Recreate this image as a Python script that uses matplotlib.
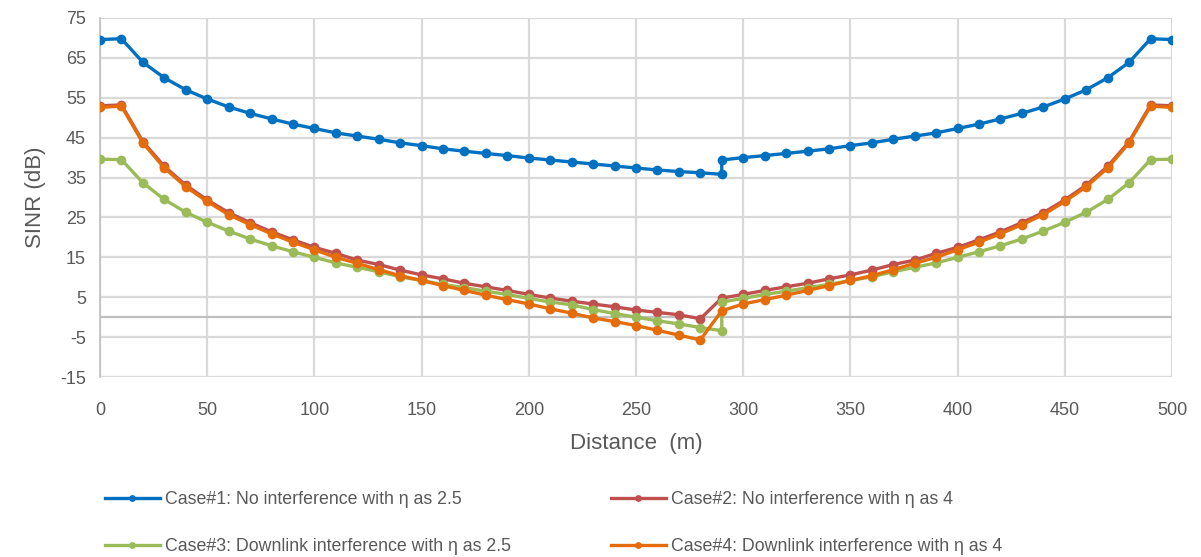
import numpy as np
import matplotlib
matplotlib.use("Agg")
import matplotlib.pyplot as plt
from matplotlib import font_manager

# Fonts: a narrow sans for the Office-like look, DejaVu as fallback
installed = {f.name for f in font_manager.fontManager.ttflist}
family = [f for f in ["Liberation Sans Narrow", "Liberation Sans"] if f in installed] + ["DejaVu Sans"]
plt.rcParams["font.family"] = family
plt.rcParams["axes.unicode_minus"] = False

# Distance along the track (m); the split series carry two values at 290 m
distance_split = [0, 10, 20, 30, 40, 50, 60, 70, 80, 90, 100, 110, 120, 130, 140,
                  150, 160, 170, 180, 190, 200, 210, 220, 230, 240, 250, 260, 270,
                  280, 290, 290, 300, 310, 320, 330, 340, 350, 360, 370, 380, 390,
                  400, 410, 420, 430, 440, 450, 460, 470, 480, 490, 500]
distance = [0, 10, 20, 30, 40, 50, 60, 70, 80, 90, 100, 110, 120, 130, 140,
            150, 160, 170, 180, 190, 200, 210, 220, 230, 240, 250, 260, 270,
            280, 290, 300, 310, 320, 330, 340, 350, 360, 370, 380, 390,
            400, 410, 420, 430, 440, 450, 460, 470, 480, 490, 500]

# SINR (dB) per case
case1 = [69.6, 69.8, 63.9, 60.0, 57.0, 54.7, 52.7, 51.1, 49.7, 48.4, 47.3, 46.2,
         45.4, 44.6, 43.7, 43.0, 42.2, 41.6, 41.05, 40.5, 39.9, 39.4, 38.9, 38.4,
         37.9, 37.4, 36.9, 36.5, 36.2, 35.8,
         39.4, 40.0, 40.5, 41.05, 41.6, 42.2, 43.0, 43.7, 44.6, 45.4, 46.2, 47.3,
         48.4, 49.7, 51.1, 52.7, 54.7, 57.0, 60.0, 63.9, 69.8, 69.6]
case3 = [39.6, 39.5, 33.7, 29.5, 26.3, 23.8, 21.6, 19.6, 17.9, 16.4, 15.0, 13.6,
         12.5, 11.4, 10.1, 9.2, 8.2, 7.4, 6.5, 5.7, 4.7, 3.8, 3.1, 1.9,
         0.9, 0.0, -0.9, -1.7, -2.6, -3.4,
         3.8, 4.7, 5.7, 6.5, 7.4, 8.2, 9.2, 10.1, 11.4, 12.5, 13.6, 15.0,
         16.4, 17.9, 19.6, 21.6, 23.8, 26.3, 29.5, 33.7, 39.5, 39.6]
case2 = [53.0, 53.2, 44.0, 37.8, 33.1, 29.4, 26.2, 23.7, 21.4, 19.4, 17.5, 16.0,
         14.3, 13.2, 11.8, 10.6, 9.6, 8.5, 7.6, 6.7, 5.7, 4.8, 4.0, 3.3,
         2.6, 1.8, 1.2, 0.6, -0.4,
         4.8, 5.7, 6.7, 7.6, 8.5, 9.6, 10.6, 11.8, 13.2, 14.3, 16.0, 17.5,
         19.4, 21.4, 23.7, 26.2, 29.4, 33.1, 37.8, 44.0, 53.2, 53.0]
case4 = [52.6, 52.9, 43.7, 37.4, 32.7, 29.0, 25.7, 23.2, 20.9, 18.8, 16.9, 15.0,
         13.5, 11.9, 10.4, 9.2, 7.9, 6.7, 5.5, 4.4, 3.3, 2.1, 1.0, -0.2,
         -1.1, -2.1, -3.3, -4.5, -5.7,
         1.6, 3.3, 4.4, 5.5, 6.7, 7.9, 9.2, 10.4, 11.9, 13.5, 15.0, 16.9,
         18.8, 20.9, 23.2, 25.7, 29.0, 32.7, 37.4, 43.7, 52.9, 52.6]

labels = ["Case#1: No interference with η as 2.5",
          "Case#2: No interference with η as 4",
          "Case#3: Downlink interference with η as 2.5",
          "Case#4: Downlink interference with η as 4"]
colors = ["#0070C0", "#C0504D", "#9BBB59", "#E46C0A"]

y_ticks = [-15, -5, 5, 15, 25, 35, 45, 55, 65, 75]
x_ticks = [0, 50, 100, 150, 200, 250, 300, 350, 400, 450, 500]

fig = plt.figure(figsize=(12.01, 5.57), dpi=100)
ax = fig.add_axes([100 / 1201, 1 - 377 / 557, 1072 / 1201, 359 / 557])

grid_c = "#D9D9D9"
for yv in y_ticks:
    ax.axhline(yv, color=grid_c, lw=1.6, zorder=0)
for xv in x_ticks:
    ax.axvline(xv, color=grid_c, lw=1.6, zorder=0)
ax.axhline(0, color="#BFBFBF", lw=1.6, zorder=0.5)

series = [(distance_split, case1), (distance, case2), (distance_split, case3), (distance, case4)]
handles = []
for (xs, ys), lab, col in zip(series, labels, colors):
    h, = ax.plot(xs, ys, color=col, lw=2.4, marker="o", ms=7,
                 markeredgewidth=0, label=lab, solid_joinstyle="round", zorder=3)
    handles.append(h)

ax.set_xlim(0, 500)
ax.set_ylim(-15, 75)
ax.set_xticks(x_ticks)
ax.set_yticks(y_ticks)
ax.tick_params(length=0, labelsize=13, colors="#595959", pad=10)
ax.tick_params(axis="x", pad=18)
for s in ax.spines.values():
    s.set_visible(False)
ax.spines["left"].set_visible(True)
ax.spines["left"].set_color("#BFBFBF")
ax.spines["left"].set_linewidth(1.2)

ax.set_xlabel("Distance  (m)", fontsize=16, color="#595959", labelpad=10)
ax.set_ylabel("SINR (dB)", fontsize=16, color="#595959", labelpad=10)

# Row-wise legend: Case#1 | Case#2 on top, Case#3 | Case#4 below
order = [0, 2, 1, 3]
leg = fig.legend(handles=[handles[i] for i in order], labels=[labels[i] for i in order],
                 ncol=2, loc="upper left",
                 bbox_to_anchor=(96 / 1201, 1 - 482 / 557), frameon=False,
                 fontsize=12.8, handlelength=3.1, handletextpad=0.3,
                 columnspacing=5.6, labelspacing=1.7, borderpad=0, numpoints=1,
                 markerscale=0.7)
for t in leg.get_texts():
    t.set_color("#595959")

fig.savefig("out.png", dpi=100)
